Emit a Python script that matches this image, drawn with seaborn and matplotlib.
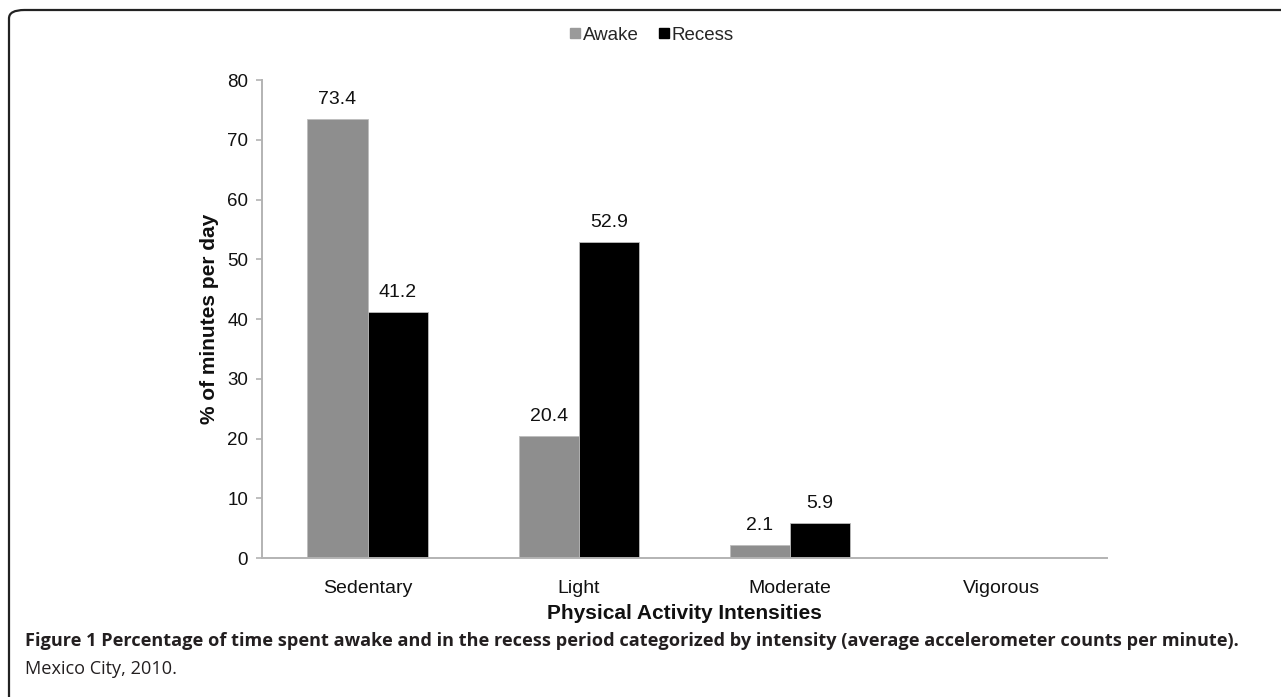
import pandas as pd
import matplotlib.pyplot as plt
import seaborn as sns
from matplotlib.patches import FancyBboxPatch

sns.set_theme(style="white")
plt.rcParams['font.family'] = ['Liberation Sans', 'DejaVu Sans']

intensities = ["Sedentary", "Light", "Moderate", "Vigorous"]
awake = [73.4, 20.4, 2.1, 0.0]
recess = [41.2, 52.9, 5.9, 0.0]
series_names = ["Awake", "Recess"]
colors = ["#8e8e8e", "#000000"]

df = pd.DataFrame({
    "Intensity": intensities * 2,
    "Period": [series_names[0]] * 4 + [series_names[1]] * 4,
    "Value": awake + recess,
})

fig = plt.figure(figsize=(12.81, 6.97), dpi=100)
ax = fig.add_axes([0.2045, 0.1994, 0.6595, 0.6858])

sns.barplot(data=df, x="Intensity", y="Value", hue="Period",
            palette=colors, width=0.57, gap=0, edgecolor="#bdbdbd",
            linewidth=0.6, ax=ax, legend=False)

ax.set_ylim(0, 80)
ax.set_yticks(range(0, 81, 10))
ax.set_xlim(-0.5, 3.5)
for s in ["top", "right"]:
    ax.spines[s].set_visible(False)
for s in ["left", "bottom"]:
    ax.spines[s].set_color("#b3b3b3")
    ax.spines[s].set_linewidth(1.4)
ax.tick_params(axis="y", left=True, length=4, width=1.2, color="#b3b3b3",
               labelsize=13.5, pad=6, labelcolor="#111111")
ax.tick_params(axis="x", bottom=False, labelsize=14, pad=10, labelcolor="#111111")
ax.set_xlabel("Physical Activity Intensities", fontsize=15, fontweight="bold",
              labelpad=5, color="#111111")
ax.set_ylabel("% of minutes per day", fontsize=15, fontweight="bold",
              labelpad=6, color="#111111")

for p in ax.patches:
    h = p.get_height()
    if h > 0:
        ax.annotate(f"{h:.1f}", (p.get_x() + p.get_width() / 2, h),
                    xytext=(0, 8), textcoords="offset points",
                    ha="center", va="bottom", fontsize=14, color="#111111")

handles = [plt.Line2D([], [], marker="s", linestyle="", color=c, markersize=7)
           for c in ["#9a9a9a", "#000000"]]
fig.legend(handles, series_names, loc="center", bbox_to_anchor=(651 / 1281, 1 - 35 / 697),
           ncol=2, frameon=False, fontsize=13.5, handletextpad=0.05, columnspacing=1.0,
           handlelength=0.7)

# rounded frame around the figure panel
frame = FancyBboxPatch((9 / 1281, -0.2), 1.2, 1.2 - 10 / 697,
                       boxstyle="round,pad=0,rounding_size=0.012",
                       transform=fig.transFigure, fill=False,
                       edgecolor="#222222", linewidth=1.6, clip_on=False)
fig.patches.append(frame)

cap_font = ['Open Sans', 'DejaVu Sans']
fig.text(25 / 1281, 1 - 641 / 697,
         "Figure 1 Percentage of time spent awake and in the recess period categorized by intensity (average accelerometer counts per minute).",
         fontsize=13.1, fontweight="bold", family=cap_font, va="center", color="#231f20")
fig.text(25 / 1281, 1 - 669 / 697, "Mexico City, 2010.",
         fontsize=13.1, family=cap_font, va="center", color="#231f20")

fig.savefig("out.png", dpi=100)
